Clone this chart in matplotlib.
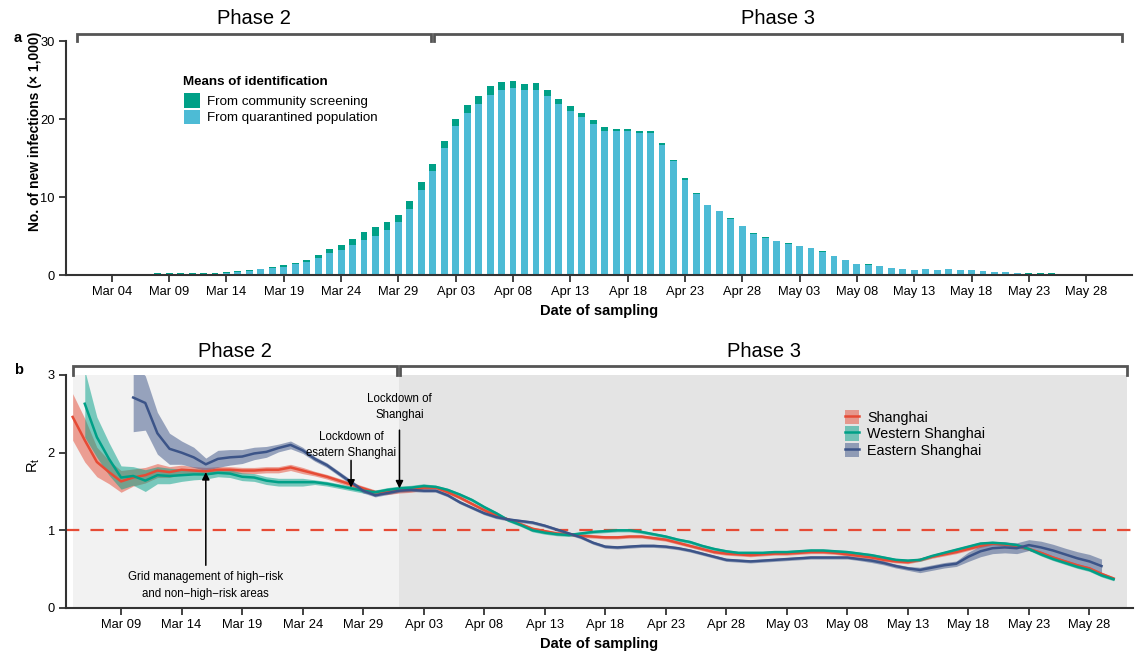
import numpy as np
import pandas as pd
import matplotlib
matplotlib.use('Agg')
import matplotlib.pyplot as plt
import matplotlib.dates as mdates
import matplotlib.transforms as mtransforms
from matplotlib.patches import Patch
from matplotlib.lines import Line2D

plt.rcParams['font.family'] = ['Liberation Sans', 'DejaVu Sans']

START = pd.Timestamp('2022-03-04')

# ---- panel a: daily new infections (x 1,000), from Mar 08 ----
bar_start = '2022-03-08'
total_k = [0.20, 0.20, 0.20, 0.20, 0.30, 0.30, 0.43, 0.55, 0.60, 0.81,
           1.07, 1.32, 1.58, 1.97, 2.60, 3.38, 3.89, 4.66, 5.47, 6.11,
           6.75, 7.74, 9.53, 11.97, 14.27, 17.20, 20.00, 21.84, 23.00, 24.27,
           24.80, 24.90, 24.50, 24.66, 23.76, 22.60, 21.70, 20.80, 19.90, 19.00,
           18.76, 18.76, 18.50, 18.40, 16.97, 14.80, 12.48, 10.56, 9.00, 8.25,
           7.35, 6.32, 5.43, 4.91, 4.40, 4.15, 3.76, 3.50, 3.12, 2.48,
           1.97, 1.45, 1.45, 1.20, 0.94, 0.81, 0.68, 0.81, 0.68, 0.81,
           0.68, 0.68, 0.55, 0.43, 0.43, 0.30, 0.20, 0.20, 0.20, 0.12]
quarantined_k = [0.05, 0.06, 0.08, 0.10, 0.12, 0.15, 0.20, 0.34, 0.47, 0.73,
                 0.85, 1.07, 1.37, 1.71, 2.22, 2.86, 3.25, 3.89, 4.53, 5.04,
                 5.81, 6.75, 8.50, 10.94, 13.38, 16.30, 19.15, 20.80, 21.97, 23.10,
                 23.76, 24.00, 23.76, 23.76, 23.00, 21.97, 21.07, 20.30, 19.40, 18.50,
                 18.40, 18.40, 18.25, 18.25, 16.70, 14.66, 12.20, 10.40, 8.95, 8.20,
                 7.20, 6.28, 5.30, 4.79, 4.36, 4.00, 3.73, 3.48, 3.00, 2.46,
                 1.95, 1.43, 1.32, 1.14, 0.92, 0.79, 0.67, 0.79, 0.67, 0.75,
                 0.67, 0.67, 0.54, 0.42, 0.42, 0.25, 0.19, 0.19, 0.19, 0.05]

# ---- panel b: Rt estimates ----
sh_start = '2022-03-05'
sh_rt = [2.46, 2.16, 1.88, 1.75, 1.63, 1.68, 1.71, 1.77, 1.75, 1.78,
         1.77, 1.76, 1.78, 1.78, 1.77, 1.77, 1.78, 1.78, 1.81, 1.77,
         1.73, 1.69, 1.64, 1.59, 1.54, 1.49, 1.49, 1.51, 1.52, 1.55,
         1.55, 1.49, 1.42, 1.34, 1.26, 1.19, 1.14, 1.08, 1.02, 0.99,
         0.96, 0.95, 0.93, 0.92, 0.91, 0.91, 0.92, 0.92, 0.90, 0.88,
         0.84, 0.80, 0.76, 0.72, 0.70, 0.69, 0.68, 0.69, 0.70, 0.70,
         0.71, 0.72, 0.72, 0.71, 0.69, 0.67, 0.65, 0.62, 0.60, 0.59,
         0.62, 0.66, 0.69, 0.72, 0.76, 0.80, 0.83, 0.82, 0.80, 0.76,
         0.71, 0.65, 0.60, 0.55, 0.51, 0.44, 0.38]
sh_hw = [0.30, 0.28, 0.19, 0.15, 0.14, 0.11, 0.10, 0.09, 0.07, 0.06,
         0.05, 0.05, 0.04, 0.04, 0.04, 0.04, 0.04, 0.04, 0.04, 0.04] + [0.03] * 10 + [0.02] * 57

west_start = '2022-03-06'
west_rt = [2.63, 2.20, 1.92, 1.68, 1.70, 1.64, 1.71, 1.70, 1.71, 1.72,
           1.72, 1.74, 1.73, 1.69, 1.68, 1.64, 1.62, 1.62, 1.62, 1.62,
           1.60, 1.57, 1.54, 1.51, 1.49, 1.52, 1.54, 1.55, 1.57, 1.56,
           1.52, 1.46, 1.39, 1.30, 1.22, 1.13, 1.07, 1.00, 0.97, 0.95,
           0.94, 0.96, 0.98, 0.99, 1.00, 1.00, 0.98, 0.95, 0.92, 0.88,
           0.85, 0.80, 0.76, 0.73, 0.71, 0.71, 0.71, 0.72, 0.72, 0.73,
           0.74, 0.74, 0.73, 0.72, 0.70, 0.68, 0.65, 0.62, 0.61, 0.62,
           0.67, 0.71, 0.75, 0.79, 0.83, 0.84, 0.83, 0.81, 0.76, 0.69,
           0.63, 0.58, 0.53, 0.49, 0.42, 0.37]
west_hw = [0.43, 0.26, 0.21, 0.15, 0.12, 0.14, 0.11, 0.10, 0.08, 0.07,
           0.06, 0.05, 0.05, 0.05, 0.05, 0.05, 0.05, 0.05, 0.05] + [0.03] * 10 + [0.02] * 57

east_start = '2022-03-10'
east_rt = [2.71, 2.64, 2.25, 2.05, 2.00, 1.94, 1.85, 1.92, 1.94, 1.95,
           1.99, 2.01, 2.06, 2.10, 2.03, 1.92, 1.84, 1.73, 1.62, 1.51,
           1.45, 1.48, 1.51, 1.52, 1.51, 1.51, 1.45, 1.36, 1.29, 1.22,
           1.17, 1.14, 1.12, 1.10, 1.06, 1.01, 0.96, 0.91, 0.84, 0.79,
           0.78, 0.79, 0.80, 0.80, 0.79, 0.77, 0.74, 0.70, 0.66, 0.62,
           0.61, 0.60, 0.61, 0.62, 0.63, 0.64, 0.65, 0.65, 0.65, 0.65,
           0.63, 0.61, 0.58, 0.54, 0.51, 0.49, 0.52, 0.55, 0.57, 0.66,
           0.73, 0.77, 0.78, 0.77, 0.81, 0.78, 0.74, 0.69, 0.64, 0.60,
           0.54]
east_hw = [0.44, 0.35, 0.27, 0.20, 0.15, 0.13, 0.08, 0.11, 0.10, 0.09,
           0.08, 0.07, 0.05, 0.05, 0.04] + [0.03] * 5 + [0.02] * 41 + \
          [0.025] * 4 + [0.035] * 4 + [0.06, 0.07, 0.07, 0.07, 0.07, 0.07,
                                       0.08, 0.08, 0.08, 0.085, 0.09, 0.09]

series = [('Shanghai', sh_start, sh_rt, sh_hw, '#E64B35'),
          ('Western Shanghai', west_start, west_rt, west_hw, '#00A087'),
          ('Eastern Shanghai', east_start, east_rt, east_hw, '#3C5488')]

phase_labels = ['Phase 2', 'Phase 3']
top_ticks = pd.date_range('2022-03-04', '2022-05-28', freq='5D')
bottom_ticks = pd.date_range('2022-03-09', '2022-05-28', freq='5D')

C_COMM = '#00A087'
C_QUAR = '#4DBBD5'
SPINE = '#333333'


def day(d):
    return mdates.date2num(START + pd.Timedelta(days=d))


def style_axes(ax):
    for s in ['top', 'right']:
        ax.spines[s].set_visible(False)
    for s in ['left', 'bottom']:
        ax.spines[s].set_color(SPINE)
        ax.spines[s].set_linewidth(1.5)
    ax.tick_params(length=5, width=1.3, color=SPINE, labelsize=9.3, pad=3)
    ax.xaxis.set_major_formatter(mdates.DateFormatter('%b %d'))


def bracket(ax, x0, x1, y_top, label, label_y):
    trans = mtransforms.blended_transform_factory(ax.transData, ax.transAxes)
    ax.plot([x0, x0, x1, x1], [1.0, y_top, y_top, 1.0], transform=trans,
            color='#555555', lw=2, clip_on=False, solid_joinstyle='miter')
    ax.text((x0 + x1) / 2, label_y, label, transform=trans, ha='center',
            va='center', fontsize=14.5)


fig = plt.figure(figsize=(11.36, 6.52), dpi=100)
ax1 = fig.add_axes([66 / 1136, 1 - 275 / 652, (1132 - 66) / 1136, (275 - 41) / 652])
ax2 = fig.add_axes([66 / 1136, 1 - 608 / 652, (1133 - 66) / 1136, (608 - 375) / 652])

# ---- panel a ----
bar_dates = pd.date_range(bar_start, periods=len(total_k))
quar = np.array(quarantined_k)
comm = np.array(total_k) - quar
ax1.bar(bar_dates, quar, width=0.6, color=C_QUAR, label='From quarantined population')
ax1.bar(bar_dates, comm, bottom=quar, width=0.6, color=C_COMM,
        label='From community screening')
ax1.set_xlim(day(-4.0), day(89.0))
ax1.set_ylim(0, 30)
ax1.set_yticks([0, 10, 20, 30])
ax1.set_xticks(top_ticks)
style_axes(ax1)
ax1.set_ylabel('No. of new infections (× 1,000)', fontsize=10, fontweight='bold')
ax1.yaxis.set_label_coords(-0.0226, 0.615)
ax1.set_xlabel('Date of sampling', fontsize=10.5, fontweight='bold', labelpad=4)
h, l = ax1.get_legend_handles_labels()
ax1.text(0.1098, 0.8245, 'Means of identification', transform=ax1.transAxes,
         fontsize=9.6, fontweight='bold', va='center', ha='left')
ax1.legend(h[::-1], l[::-1], loc='upper left', bbox_to_anchor=(0.1107, 0.776),
           frameon=False, fontsize=9.6, handlelength=1.2, handleheight=1.25,
           labelspacing=0.12, handletextpad=0.55, borderpad=0, borderaxespad=0)
bracket(ax1, day(-3.0), day(27.8), 1.03, phase_labels[0], 1.098)
bracket(ax1, day(28.1), day(88.1), 1.03, phase_labels[1], 1.098)
fig.text(14 / 1136, 1 - 38 / 652, 'a', fontsize=10.5, fontweight='bold', va='center')

# ---- panel b ----
ax2.axvspan(day(1.0), day(28.0), color='#F2F2F2', lw=0, zorder=0)
ax2.axvspan(day(28.0), day(88.1), color='#E4E4E4', lw=0, zorder=0)
ax2.axhline(1, color='#E64B35', lw=1.6, dashes=(6, 5), zorder=1)

handles = []
for name, start, rt, hw, col in series:
    d = pd.date_range(start, periods=len(rt))
    rt = np.array(rt)
    hw = np.array(hw)
    ax2.fill_between(d, rt - hw, rt + hw, color=col, alpha=0.5, lw=0, zorder=2)
    ax2.plot(d, rt, color=col, lw=1.8, zorder=3)
    handles.append((Patch(facecolor=col, alpha=0.5, lw=0), Line2D([], [], color=col, lw=1.8)))

ax2.set_xlim(day(0.45), day(88.6))
ax2.set_ylim(0, 3)
ax2.set_yticks([0, 1, 2, 3])
ax2.set_xticks(bottom_ticks)
style_axes(ax2)
ax2.set_ylabel('R$_\\mathregular{t}$', fontsize=10.5)
ax2.yaxis.set_label_coords(-0.0228, 0.614)
ax2.set_xlabel('Date of sampling', fontsize=10.5, fontweight='bold', labelpad=4)
ax2.legend(handles, [s[0] for s in series], loc='upper left', bbox_to_anchor=(0.7235, 0.882),
           frameon=False, fontsize=10.3, handlelength=1.0, handleheight=1.15,
           labelspacing=0.12, handletextpad=0.55, borderpad=0)

arrow = dict(arrowstyle='-|>', color='black', lw=1.1, mutation_scale=11, shrinkA=0, shrinkB=0)
ax2.annotate('', xy=(day(12), 1.75), xytext=(day(12), 0.55), arrowprops=arrow)
ax2.text(day(12), 0.47, 'Grid management of high\u2212risk\nand non\u2212high\u2212risk areas',
         ha='center', va='top', fontsize=8.3, linespacing=1.45)
ax2.annotate('', xy=(day(24), 1.55), xytext=(day(24), 1.9), arrowprops=arrow)
ax2.text(day(24), 1.92, 'Lockdown of\nesatern Shanghai', ha='center', va='bottom',
         fontsize=8.3, linespacing=1.45)
ax2.annotate('', xy=(day(28), 1.54), xytext=(day(28), 2.29), arrowprops=arrow)
ax2.text(day(28), 2.41, 'Lockdown of\nShanghai', ha='center', va='bottom',
         fontsize=8.3, linespacing=1.45)

bracket(ax2, day(1.0), day(27.8), 1.039, phase_labels[0], 1.099)
bracket(ax2, day(28.05), day(88.1), 1.039, phase_labels[1], 1.099)
fig.text(14 / 1136, 1 - 370 / 652, 'b', fontsize=10.5, fontweight='bold', va='center')

fig.savefig('out.png', dpi=100)
